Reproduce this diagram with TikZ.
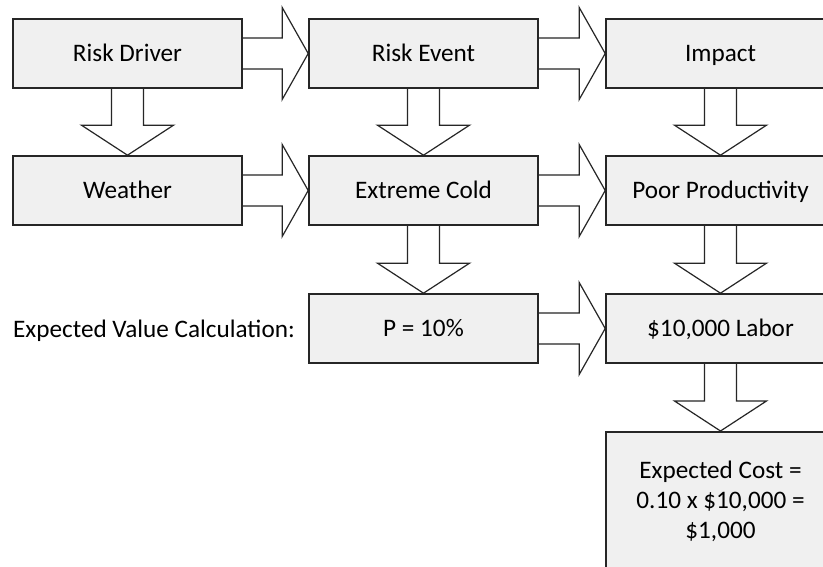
\documentclass[tikz,border=0pt]{standalone}
\usepackage{fontspec}
\setmainfont{Carlito}
\usetikzlibrary{calc}
\tikzset{
  box/.style={draw=black!85, line width=1.6pt, fill=black!6, minimum width=229pt, minimum height=69pt,
    inner sep=0pt, text height=16pt, text depth=0pt, font=\fontsize{25.2}{30}\selectfont},
  bigbox/.style={draw=black!85, line width=1.6pt, fill=black!6, minimum width=229pt, minimum height=140pt,
    inner sep=0pt, align=center, font=\fontsize{25.2}{30}\selectfont},
  barrow/.style={draw=black!85, line width=1.2pt, line join=miter},
  lbl/.style={inner sep=0pt, font=\fontsize{25.2}{30}\selectfont}
}
\newcommand{\rarr}[2]{%
  \draw[barrow] let \p1=(#1.east), \p2=(#2.west) in
    (\x1,\y1+15.5pt) -- (\x2-26pt,\y1+15.5pt) -- (\x2-26pt,\y1+46pt) -- (\x2,\y1)
    -- (\x2-26pt,\y1-46pt) -- (\x2-26pt,\y1-15.5pt) -- (\x1,\y1-15.5pt);}
\newcommand{\darr}[2]{%
  \draw[barrow] let \p1=(#1.south), \p2=(#2.north) in
    (\x1-16pt,\y1) -- (\x1-16pt,\y2+30pt) -- (\x1-46pt,\y2+30pt) -- (\x1,\y2)
    -- (\x1+46pt,\y2+30pt) -- (\x1+16pt,\y2+30pt) -- (\x1+16pt,\y1);}
\begin{document}
\begin{tikzpicture}[x=1pt,y=-1pt]
\useasboundingbox (0,0) rectangle (823,567);
\clip (0,0) rectangle (823,567);
\fill[white] (0,0) rectangle (823,567);
% row 1
\node[box] (rd) at (127.5,53.5) {Risk Driver};
\node[box] (re) at (423.5,53.5) {Risk Event};
\node[box] (im) at (720.5,53.5) {Impact};
% row 2
\node[box] (we) at (127.5,190.5) {Weather};
\node[box] (ec) at (423.5,190.5) {Extreme Cold};
\node[box] (pp) at (720.5,190.5) {Poor Productivity};
% row 3
\node[lbl, anchor=base west] (evc) at (13,337) {Expected Value Calculation:};
\node[box] (p) at (423.5,328.5) {P = 10\%};
\node[box] (lab) at (720.5,328.5) {\$10,000 Labor};
% row 4
\node[bigbox, anchor=north] (cost) at (720.5,431) {Expected Cost =\\0.10 x \$10,000 =\\\$1,000};
% arrows
\rarr{rd}{re}
\rarr{re}{im}
\rarr{we}{ec}
\rarr{ec}{pp}
\rarr{p}{lab}
\darr{rd}{we}
\darr{re}{ec}
\darr{im}{pp}
\darr{ec}{p}
\darr{pp}{lab}
\darr{lab}{cost}
\end{tikzpicture}
\end{document}
